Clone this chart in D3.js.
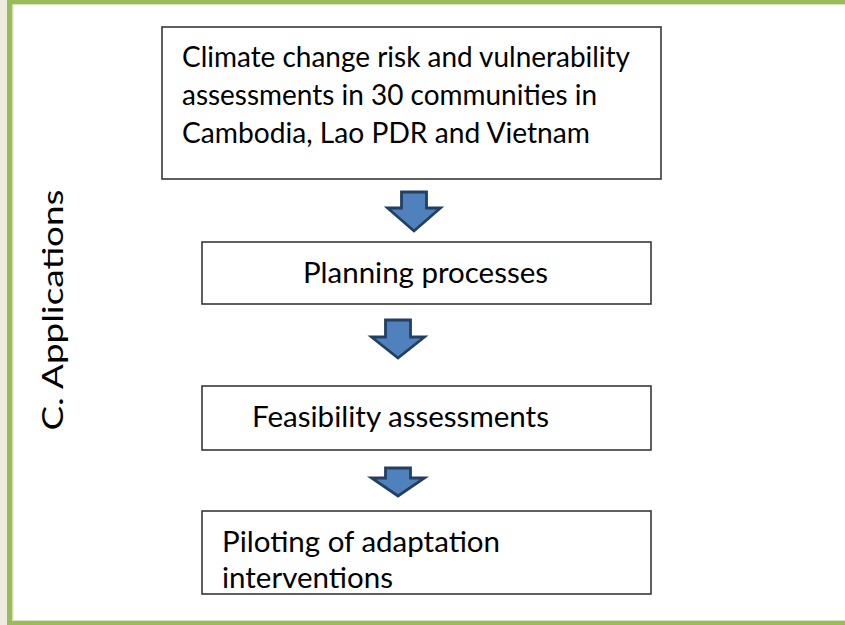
<!DOCTYPE html>
<html>
<head>
<meta charset="utf-8">
<script src="https://cdn.jsdelivr.net/npm/d3@7"></script>
<style>
html,body{margin:0;padding:0;background:#fff;}
svg{display:block;}
</style>
</head>
<body>
<svg id="chart" width="845" height="625"></svg>
<script>
// ---- data ----
const sideTitle = "C. Applications";
const stepNames = ["Climate change risk and vulnerability assessments", "Planning processes", "Feasibility assessments", "Piloting of adaptation interventions"];
const stepLines = [
  ["Climate change risk and vulnerability", "assessments in 30 communities in", "Cambodia, Lao PDR and Vietnam"],
  ["Planning processes"],
  ["Feasibility assessments"],
  ["Piloting of adaptation", "interventions"]
];

// ---- layout (positions / sizes, kept apart from data) ----
const boxes = [
  {x0:162, x1:661, y0:27,  y1:179, tx:182, base:[67,105,143], w:[448,415,408]},
  {x0:202, x1:651, y0:242, y1:304, tx:303, base:[283], w:[245]},
  {x0:202, x1:651, y0:386, y1:450, tx:252, base:[427], w:[297]},
  {x0:202, x1:651, y0:511, y1:594, tx:222, base:[552,588], w:[278,171]}
];
const arrows = [
  {cx:414, top:192, head:208, tip:231},
  {cx:398, top:320, head:337, tip:358},
  {cx:398, top:468, head:478, tip:496}
];

const svg = d3.select("#chart");
const font = "Lato, 'Open Sans', sans-serif";

// frame
svg.append("rect").attr("x",0).attr("y",0).attr("width",845).attr("height",625).attr("fill","#ffffff");
svg.append("rect").attr("x",0).attr("y",0).attr("width",7).attr("height",625).attr("fill","#EEECE1");
svg.append("rect").attr("x",7).attr("y",0).attr("width",838).attr("height",4).attr("fill","#9BBB59");
svg.append("rect").attr("x",12).attr("y",4).attr("width",833).attr("height",1.2).attr("fill","#D7E4BD");
svg.append("rect").attr("x",7).attr("y",0).attr("width",5.5).attr("height",625).attr("fill","#9BBB59");
svg.append("rect").attr("x",12.5).attr("y",5).attr("width",1).attr("height",616).attr("fill","#D7E4BD");
svg.append("rect").attr("x",7).attr("y",621).attr("width",838).attr("height",4).attr("fill","#9BBB59");
svg.append("rect").attr("x",12).attr("y",620).attr("width",833).attr("height",1).attr("fill","#D7E4BD");

// side title
svg.append("text")
  .attr("transform","translate(63,310) rotate(-90)")
  .attr("text-anchor","middle")
  .attr("font-family",font)
  .attr("font-size",29)
  .attr("textLength",241)
  .attr("lengthAdjust","spacingAndGlyphs")
  .attr("fill","#000")
  .text(sideTitle);

// boxes
const g = svg.selectAll("g.step").data(stepLines).join("g").attr("class","step");
g.append("rect")
  .attr("x",(d,i)=>boxes[i].x0)
  .attr("y",(d,i)=>boxes[i].y0)
  .attr("width",(d,i)=>boxes[i].x1-boxes[i].x0)
  .attr("height",(d,i)=>boxes[i].y1-boxes[i].y0)
  .attr("fill","#fff")
  .attr("stroke","#383838")
  .attr("stroke-width",1.6);
g.each(function(lines,i){
  const b = boxes[i];
  d3.select(this).selectAll("text").data(lines).join("text")
    .attr("x",b.tx)
    .attr("y",(d,j)=>b.base[j])
    .attr("font-family",font)
    .attr("font-size",28)
    .attr("textLength",(d,j)=>b.w[j])
    .attr("lengthAdjust","spacingAndGlyphs")
    .attr("fill","#000")
    .text(d=>d);
});

// arrows
const shaftHalf = 12.5, headHalf = 26.5;
const line = d3.line();
svg.selectAll("path.arrow").data(arrows).join("path")
  .attr("class","arrow")
  .attr("d",a=>line([
    [a.cx-shaftHalf,a.top],[a.cx+shaftHalf,a.top],[a.cx+shaftHalf,a.head],
    [a.cx+headHalf,a.head],[a.cx,a.tip],[a.cx-headHalf,a.head],[a.cx-shaftHalf,a.head]
  ])+"Z")
  .attr("fill","#4F81BD")
  .attr("stroke","#243F60")
  .attr("stroke-width",2.8)
  .attr("stroke-linejoin","miter");
</script>
</body>
</html>
